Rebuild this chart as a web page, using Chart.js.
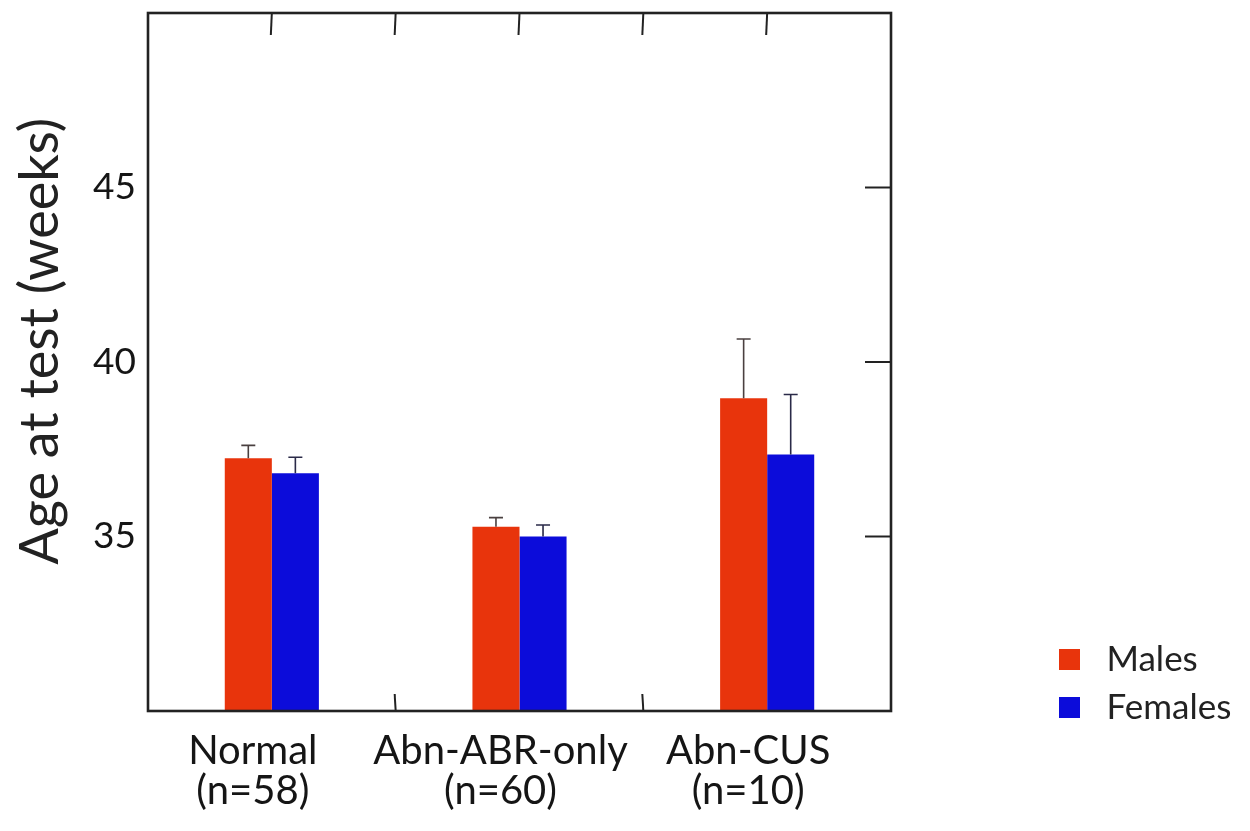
<!DOCTYPE html>
<html>
<head>
<meta charset="utf-8">
<title>Age at test</title>
<script src="https://cdn.jsdelivr.net/npm/chart.js@4.4.1/dist/chart.umd.min.js"></script>
<style>
  html, body { margin: 0; padding: 0; background: #fff; }
  #wrap { width: 1250px; height: 831px; }
</style>
</head>
<body>
<div id="wrap"><canvas id="chart" width="1250" height="831"></canvas></div>
<script>
// groups, two label lines each
const groups = [['Normal', '(n=58)'], ['Abn-ABR-only', '(n=60)'], ['Abn-CUS', '(n=10)']];
const maleAge = [37.24, 35.28, 38.96];
const maleErr = [0.37, 0.26, 1.70];
const femaleAge = [36.81, 35.00, 37.35];
const femaleErr = [0.46, 0.33, 1.72];
const yTicks = [35, 40, 45];
// inward tick marks, as category index positions
const topMarks = [0, 0.5, 1, 1.5, 2];
const bottomMarks = [0.5, 1.5];

const RED = 'rgb(232,52,12)';
const BLUE = 'rgb(12,12,218)';
const FONT = 'Lato, "Open Sans", sans-serif';

// little filled squares used as legend markers
function swatch(color) {
    const c = document.createElement('canvas');
    c.width = 21; c.height = 21;
    const g = c.getContext('2d');
    g.fillStyle = color;
    g.fillRect(0, 0, 21, 21);
    return c;
}
const swatches = [swatch(RED), swatch(BLUE)];

// upper error whiskers with a cap
const errorBars = {
    id: 'errorBars',
    afterDatasetsDraw(chart) {
        const ctx = chart.ctx;
        const y = chart.scales.y;
        chart.data.datasets.forEach((ds, i) => {
            const meta = chart.getDatasetMeta(i);
            ctx.save();
            ctx.strokeStyle = ds.whiskerColor;
            ctx.lineWidth = 1.6;
            meta.data.forEach((bar, j) => {
                const top = y.getPixelForValue(ds.data[j] + ds.errors[j]);
                ctx.beginPath();
                ctx.moveTo(bar.x, bar.y);
                ctx.lineTo(bar.x, top);
                ctx.moveTo(bar.x - 7, top);
                ctx.lineTo(bar.x + 7, top);
                ctx.stroke();
            });
            ctx.restore();
        });
    }
};

// box around the plot and the inward tick marks
const frame = {
    id: 'frame',
    afterDatasetsDraw(chart) {
        const ctx = chart.ctx;
        const a = chart.chartArea;
        const x = chart.scales.x, y = chart.scales.y;
        ctx.save();
        ctx.strokeStyle = '#222';
        ctx.lineWidth = 2;
        topMarks.forEach(v => {
            const px = x.getPixelForValue(v);
            ctx.beginPath(); ctx.moveTo(px, a.top); ctx.lineTo(px - 1, a.top + 22); ctx.stroke();
        });
        bottomMarks.forEach(v => {
            const px = x.getPixelForValue(v);
            ctx.beginPath(); ctx.moveTo(px, a.bottom); ctx.lineTo(px - 1, a.bottom - 17); ctx.stroke();
        });
        yTicks.forEach(v => {
            const py = y.getPixelForValue(v);
            ctx.beginPath(); ctx.moveTo(a.right, py); ctx.lineTo(a.right - 26, py); ctx.stroke();
        });
        ctx.lineWidth = 2.6;
        ctx.strokeRect(a.left, a.top, a.right - a.left, a.bottom - a.top);
        ctx.restore();
    }
};

// legend sits out to the right, level with the bottom of the plot
const legendSpot = {
    id: 'legendSpot',
    afterLayout(chart) {
        const lg = chart.legend, a = chart.chartArea;
        const w = lg.width;
        lg.left = a.right + 145;
        lg.right = lg.left + w + 40;
        lg.top = a.bottom - 82;
        lg.bottom = lg.top + 300;
    }
};

new Chart(document.getElementById('chart'), {
    type: 'bar',
    data: {
        labels: groups,
        datasets: [{
            label: 'Males',
            data: maleAge,
            errors: maleErr,
            whiskerColor: '#4a4040',
            backgroundColor: RED,
            pointStyle: swatches[0]
        }, {
            label: 'Females',
            data: femaleAge,
            errors: femaleErr,
            whiskerColor: '#2a2a48',
            backgroundColor: BLUE,
            pointStyle: swatches[1]
        }]
    },
    options: {
        responsive: false,
        animation: false,
        events: [],
        categoryPercentage: 0.38,
        barPercentage: 1.0,
        layout: { padding: { left: 8, top: 13, right: 359, bottom: 0 } },
        scales: {
            x: {
                grid: { display: false, drawTicks: false },
                border: { display: false },
                ticks: {
                    color: '#151515',
                    padding: 20,
                    labelOffset: -19,
                    autoSkip: false,
                    font: { family: FONT, size: 40, lineHeight: 1.0 },
                    maxRotation: 0
                },
                afterFit(s) { s.paddingLeft = 0; s.paddingRight = 0; }
            },
            y: {
                min: 30,
                max: 50,
                grid: { display: false, drawTicks: false },
                border: { display: false },
                afterBuildTicks(s) { s.ticks = yTicks.map(v => ({ value: v })); },
                ticks: {
                    color: '#151515',
                    padding: 12,
                    font: { family: FONT, size: 37 }
                },
                title: {
                    display: true,
                    // leading spaces lift the centred title a little
                    text: '   Age at test (weeks)',
                    color: '#222',
                    padding: 0,
                    font: { family: FONT, size: 54, lineHeight: 1.2 }
                },
                afterFit(s) { s.width = 140; s.paddingTop = 0; s.paddingBottom = 0; }
            }
        },
        plugins: {
            tooltip: { enabled: false },
            legend: {
                position: 'chartArea',
                align: 'start',
                labels: {
                    usePointStyle: true,
                    pointStyleWidth: 40,
                    padding: 13,
                    color: '#222',
                    font: { family: FONT, size: 35 }
                }
            }
        }
    },
    plugins: [errorBars, frame, legendSpot]
});
</script>
</body>
</html>
